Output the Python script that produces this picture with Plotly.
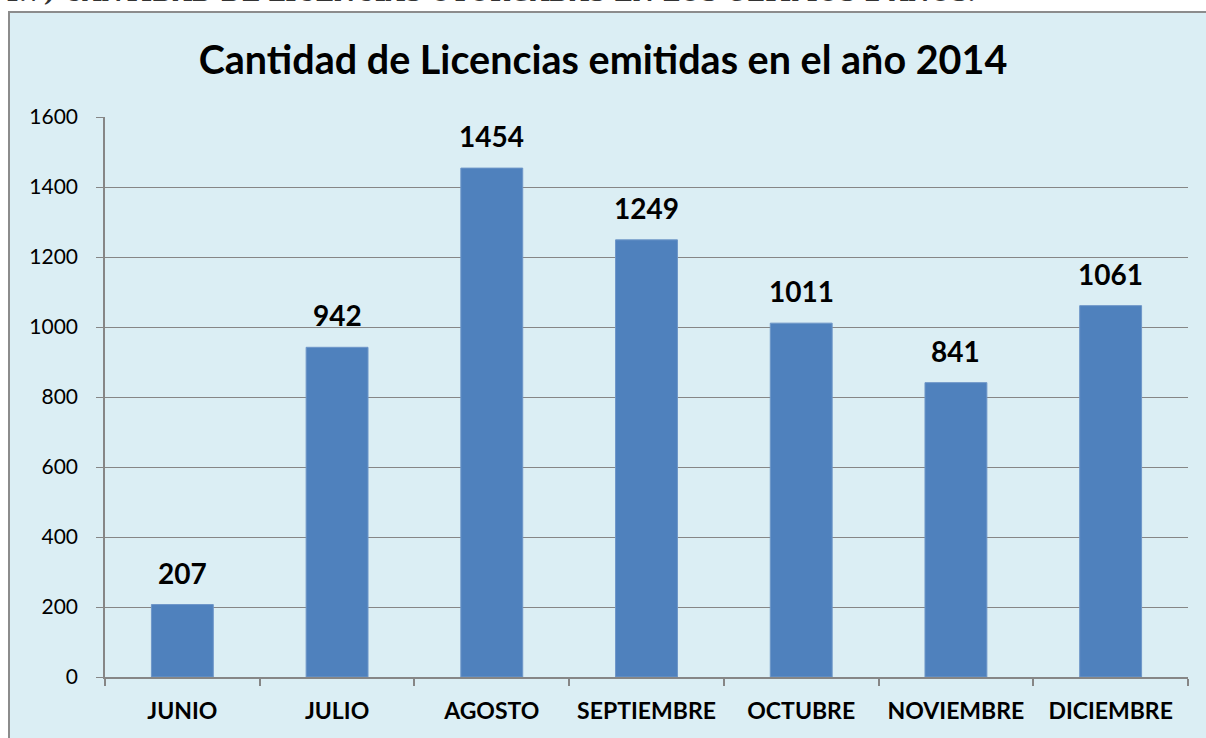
import plotly.graph_objects as go

months = ["JUNIO", "JULIO", "AGOSTO", "SEPTIEMBRE", "OCTUBRE", "NOVIEMBRE", "DICIEMBRE"]
licencias = [207, 942, 1454, 1249, 1011, 841, 1061]
y_ticks = [0, 200, 400, 600, 800, 1000, 1200, 1400, 1600]

title_text = "Cantidad de Licencias emitidas en el año 2014"
caption_text = "4.7) CANTIDAD DE LICENCIAS OTORGADAS EN LOS ÚLTIMOS 2 AÑOS."

FONT = "Lato, Open Sans, sans-serif"

fig = go.Figure()
fig.add_trace(go.Bar(
    x=months, y=licencias,
    marker=dict(color="#4F81BD", line=dict(color="#6E96C8", width=1)),
    hoverinfo="x+y",
))

label_annotations = [
    dict(x=m, y=v, xref="x", yref="y", text="<b>%d</b>" % v, showarrow=False,
         yanchor="bottom", yshift=13,
         font=dict(family=FONT, size=28, color="black"))
    for m, v in zip(months, licencias)
]

fig.update_layout(
    width=1206, height=738,
    margin=dict(l=105, r=18, t=117, b=61),
    paper_bgcolor="white",
    plot_bgcolor="white",
    bargap=0.6,
    showlegend=False,
    font=dict(family=FONT, color="black"),
    title=dict(text="<b>" + title_text + "</b>", x=0.5, xanchor="center",
               y=1 - 60 / 738, yanchor="middle",
               font=dict(size=39.5, color="black")),
    xaxis=dict(
        showgrid=False, showline=True, linecolor="#868686", linewidth=2,
        ticks="outside", ticklen=7, tickcolor="#868686", tickwidth=1.5,
        tickson="boundaries", ticklabelstandoff=12,
        tickfont=dict(size=23, color="black", weight="bold"),
    ),
    yaxis=dict(
        range=[0, 1600], tickvals=y_ticks,
        showgrid=True, gridcolor="#868686", gridwidth=1.2,
        showline=True, linecolor="#868686", linewidth=1.5,
        ticks="outside", ticklen=7, tickcolor="#868686",
        ticklabelstandoff=14,
        tickfont=dict(size=21, color="black"),
        zeroline=False,
    ),
    shapes=[dict(
        type="rect", xref="paper", yref="paper", layer="below",
        x0=(9 - 105) / 1083, x1=1.1, y0=-0.2, y1=(677 - 12) / 560,
        fillcolor="#DBEEF4", line=dict(color="#8C8C8C", width=2),
    )],
    annotations=label_annotations + [dict(
        text="<b>" + caption_text + "</b>", xref="paper", yref="paper",
        x=(0 - 105) / 1083, xanchor="left",
        y=(677 - 9) / 560, yanchor="bottom", showarrow=False,
        font=dict(family="DejaVu Serif, serif", size=24, color="#333333"),
    )],
)

fig.write_html("out.html", config={"displayModeBar": False},
               post_script="document.body.style.margin='0';")
